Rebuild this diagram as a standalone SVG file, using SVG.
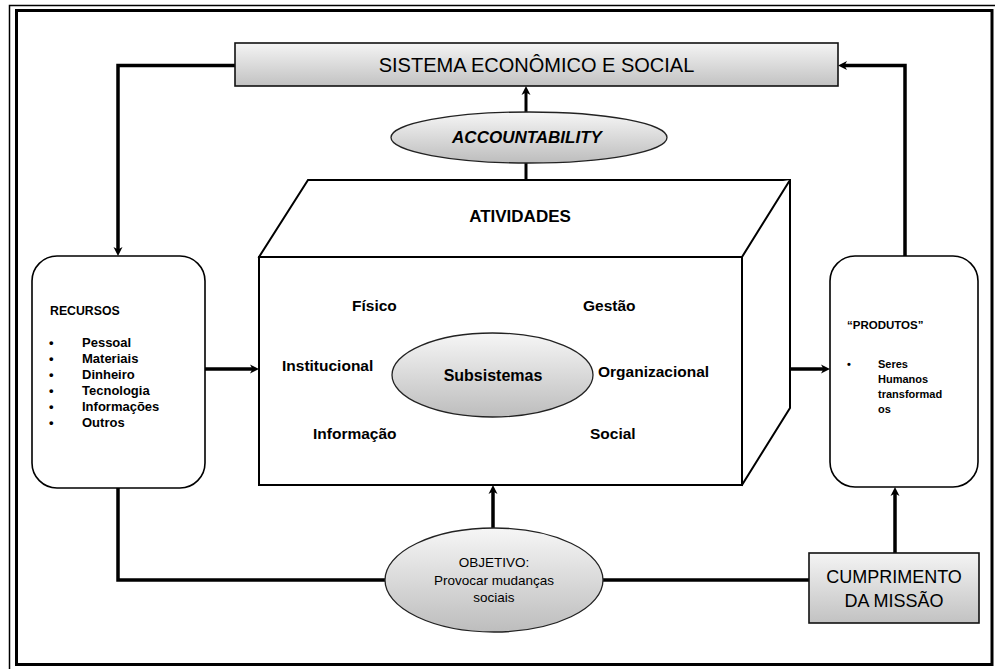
<svg xmlns="http://www.w3.org/2000/svg" width="995" height="669" viewBox="0 0 995 669">
  <defs>
    <linearGradient id="gBox" x1="0" y1="0" x2="0" y2="1">
      <stop offset="0" stop-color="#f4f4f4"/>
      <stop offset="1" stop-color="#c2c2c2"/>
    </linearGradient>
    <linearGradient id="gOval" x1="0" y1="0" x2="0" y2="1">
      <stop offset="0" stop-color="#f6f6f6"/>
      <stop offset="1" stop-color="#bdbdbd"/>
    </linearGradient>
    <marker id="arrow" viewBox="0 -5 10 10" refX="3" refY="0" markerWidth="10" markerHeight="10" markerUnits="userSpaceOnUse" orient="auto">
      <path d="M0,-4.5 L9,0 L0,4.5 L2.5,0 Z" fill="#000"/>
    </marker>
    <style>
      .frame { fill: none; stroke: #000; }
      .link { fill: none; stroke: #000; stroke-width: 3.5; }
      .thin { fill: none; stroke: #000; stroke-width: 3; }
      .cube { fill: #fff; stroke: #000; stroke-width: 2; stroke-linejoin: miter; }
      .round { fill: #fff; stroke: #000; stroke-width: 1.6; }
      .grad { fill: url(#gBox); stroke: #111; stroke-width: 1.6; }
      .oval { fill: url(#gOval); stroke: #222; stroke-width: 1.3; }
      text { font-family: "Liberation Sans", Arial, sans-serif; fill: #000; }
      .b { font-weight: bold; }
      .lbl { font-size: 15.5px; font-weight: bold; }
      .item { font-size: 13px; font-weight: bold; }
      .prod { font-size: 11px; font-weight: bold; }
    </style>
  </defs>

  <!-- page border: thin outer line and thick inner line -->
  <g id="border">
    <path class="frame" d="M9.5,669 V5.5 H995" stroke-width="1.5"/>
    <rect class="frame" x="16.5" y="10.5" width="975.5" height="654" stroke-width="3"/>
  </g>

  <!-- connectors -->
  <g id="connectors">
    <path class="link" d="M235,65.5 H118 V250" marker-end="url(#arrow)"/>
    <path class="link" d="M905,256 V65.5 H844" marker-end="url(#arrow)"/>
    <path class="thin" d="M526,112 V92" marker-end="url(#arrow)"/>
    <path class="thin" d="M526,180 V163"/>
    <path class="link" d="M205,369 H253" marker-end="url(#arrow)"/>
    <path class="link" d="M742,369 H824" marker-end="url(#arrow)"/>
    <path class="link" d="M118,488 V580 H385"/>
    <path class="link" d="M493,528 V491" marker-end="url(#arrow)"/>
    <path class="link" d="M603,580 H809"/>
    <path class="link" d="M895,553 V493" marker-end="url(#arrow)"/>
  </g>

  <g id="sistema">
    <rect class="grad" x="235" y="43" width="603" height="43"/>
    <text x="536.5" y="72" font-size="20" text-anchor="middle">SISTEMA ECONÔMICO E SOCIAL</text>
  </g>

  <g id="accountability">
    <ellipse class="oval" cx="529" cy="137.5" rx="138" ry="25.5"/>
    <text x="527" y="143" font-size="17" font-weight="bold" font-style="italic" text-anchor="middle">ACCOUNTABILITY</text>
  </g>

  <g id="atividades">
    <path class="cube" d="M259,257 L308,180 H790 V408 L742,485 Z"/>
    <path class="cube" d="M259,257 H742 L790,180 M742,257 V485"/>
    <rect class="cube" x="259" y="257" width="483" height="228"/>
    <text x="520" y="222" font-size="17" font-weight="bold" text-anchor="middle">ATIVIDADES</text>
    <text class="lbl" x="352" y="311">Físico</text>
    <text class="lbl" x="583" y="311">Gestão</text>
    <text class="lbl" x="282" y="371">Institucional</text>
    <text class="lbl" x="598" y="377">Organizacional</text>
    <text class="lbl" x="313" y="439">Informação</text>
    <text class="lbl" x="590" y="439">Social</text>
  </g>

  <g id="subsistemas">
    <ellipse class="oval" cx="492.5" cy="375" rx="100.5" ry="42"/>
    <text x="493" y="381" font-size="16" font-weight="bold" text-anchor="middle">Subsistemas</text>
  </g>

  <g id="recursos">
    <rect class="round" x="32" y="256" width="173" height="232" rx="25" ry="25"/>
    <text x="50" y="315" font-size="12.3" font-weight="bold">RECURSOS</text>
    <text class="item" x="49" y="347">•</text><text class="item" x="82" y="347">Pessoal</text>
    <text class="item" x="49" y="363">•</text><text class="item" x="82" y="363">Materiais</text>
    <text class="item" x="49" y="379">•</text><text class="item" x="82" y="379">Dinheiro</text>
    <text class="item" x="49" y="395">•</text><text class="item" x="82" y="395">Tecnologia</text>
    <text class="item" x="49" y="411">•</text><text class="item" x="82" y="411">Informações</text>
    <text class="item" x="49" y="427">•</text><text class="item" x="82" y="427">Outros</text>
  </g>

  <g id="produtos">
    <rect class="round" x="830" y="256" width="148" height="231" rx="25" ry="25"/>
    <text x="847" y="329" font-size="11.5" font-weight="bold">“PRODUTOS”</text>
    <text class="prod" x="847" y="368">•</text>
    <text class="prod" x="878" y="368">Seres</text>
    <text class="prod" x="878" y="383">Humanos</text>
    <text class="prod" x="878" y="398">transformad</text>
    <text class="prod" x="878" y="413">os</text>
  </g>

  <g id="objetivo">
    <ellipse class="oval" cx="494" cy="580" rx="109" ry="52"/>
    <text x="494" y="567" font-size="13.5" text-anchor="middle">OBJETIVO:</text>
    <text x="494" y="585" font-size="13.5" text-anchor="middle">Provocar mudanças</text>
    <text x="494" y="602" font-size="13.5" text-anchor="middle">sociais</text>
  </g>

  <g id="cumprimento">
    <rect class="grad" x="809" y="553" width="170" height="70" stroke-width="2"/>
    <text x="894" y="583" font-size="18" text-anchor="middle">CUMPRIMENTO</text>
    <text x="894" y="607" font-size="18" text-anchor="middle">DA MISSÃO</text>
  </g>
</svg>
